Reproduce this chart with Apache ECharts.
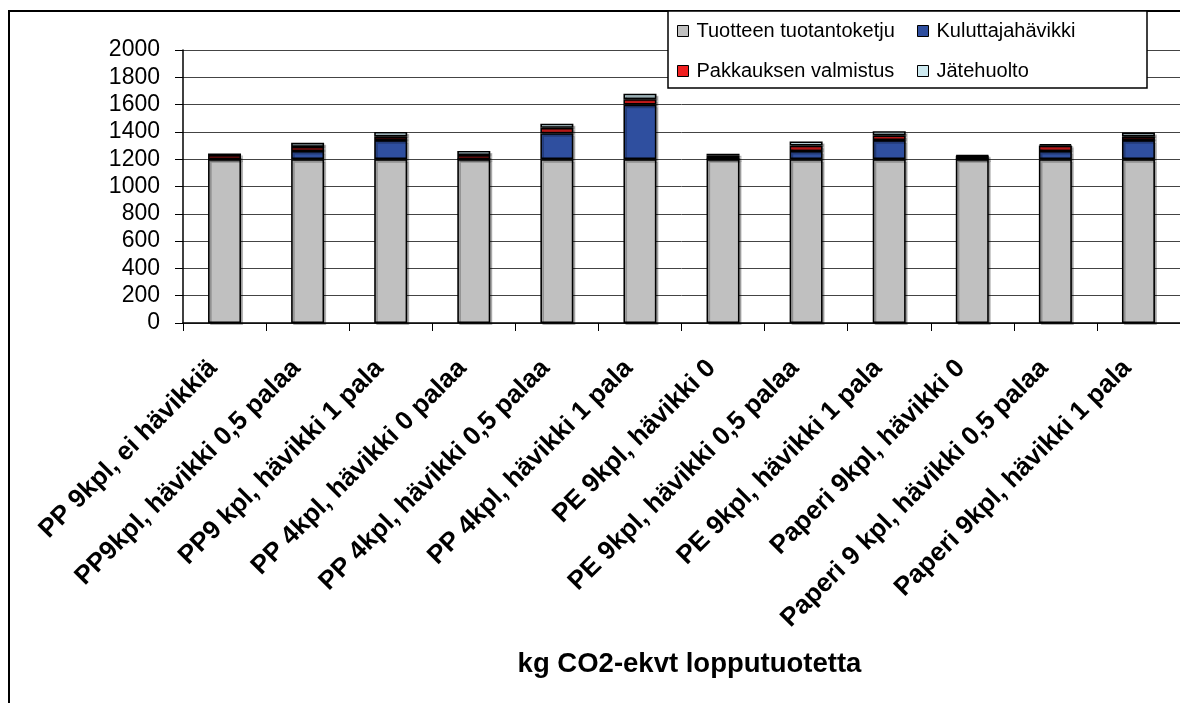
<!DOCTYPE html>
<html><head><meta charset="utf-8">
<script src="https://cdn.jsdelivr.net/npm/echarts@6/dist/echarts.min.js"></script>
<style>html,body{margin:0;padding:0;background:#fff}#c{width:1180px;height:703px}</style>
</head><body><div id="c"></div>
<script>
const categories = ['PP 9kpl, ei hävikkiä','PP9kpl, hävikki 0,5 palaa','PP9 kpl, hävikki 1 pala','PP 4kpl, hävikki 0 palaa','PP 4kpl, hävikki 0,5 palaa','PP 4kpl, hävikki 1 pala','PE 9kpl, hävikki 0','PE 9kpl, hävikki 0,5 palaa','PE 9kpl, hävikki 1 pala','Paperi 9kpl, hävikki 0','Paperi 9 kpl, hävikki 0,5 palaa','Paperi 9kpl, hävikki 1 pala'];
const tuotantoketju = [1200,1200,1200,1200,1200,1200,1200,1200,1200,1200,1200,1200];
const kuluttajahavikki = [0,60,140,0,190,400,0,60,140,0,60,140];
const pakkaus = [30,30,25,30,40,40,25,40,35,25,40,25];
const jatehuolto = [12,30,35,30,30,40,15,30,30,5,10,30];
const yTicks = {min:0, max:2000, interval:200};

const chart = echarts.init(document.getElementById('c'));
const border = {borderColor:'#000', borderWidth:1.6, shadowColor:'rgba(0,0,0,0.25)', shadowOffsetX:2, shadowOffsetY:2, shadowBlur:0};
function s(name, data, color){
  return {name, type:'bar', stack:'t', data, barWidth:33, itemStyle:Object.assign({color}, border)};
}
const legendCommon = {orient:'vertical', top:21, padding:0, itemWidth:11, itemHeight:11, itemGap:20, z:10,
  textStyle:{fontSize:20, color:'#000', padding:[0,0,0,3]}, itemStyle:{borderColor:'#000', borderWidth:1}, icon:'rect'};
chart.setOption({
  animation:false,
  textStyle:{fontFamily:'Liberation Sans, Arial, sans-serif'},
  grid:{left:183, top:50, width:1010, bottom:380, containLabel:false},
  xAxis:{type:'category', data:categories,
    axisLine:{lineStyle:{color:'#000', width:1.5}},
    axisTick:{show:true, length:8, alignWithLabel:false, lineStyle:{color:'#000'}},
    axisLabel:{rotate:45, interval:0, color:'#000', fontSize:26, fontWeight:'bold', margin:30, padding:[0,16,0,0]},
    name:'kg CO2-ekvt lopputuotetta', nameLocation:'middle', nameGap:327,
    nameTextStyle:{color:'#000', fontSize:27.5, fontWeight:'bold', padding:[0,0,0,16]}
  },
  yAxis:{type:'value', min:yTicks.min, max:yTicks.max, interval:yTicks.interval,
    axisLine:{show:true, lineStyle:{color:'#000', width:1.5}},
    axisTick:{show:true, length:8, lineStyle:{color:'#000'}},
    axisLabel:{color:'#000', fontSize:23, margin:23, formatter:v=>String(v)},
    splitLine:{show:true, lineStyle:{color:'#444', width:1}}
  },
  legend:[
    Object.assign({data:['Tuotteen tuotantoketju','Pakkauksen valmistus'], left:677}, legendCommon),
    Object.assign({data:['Kuluttajahävikki','Jätehuolto'], left:917}, legendCommon)
  ],
  graphic:[
    {type:'rect', z:-1, shape:{x:9, y:11, width:1200, height:720}, style:{fill:'none', stroke:'#000', lineWidth:2}},
    {type:'rect', z:5, shape:{x:668, y:11, width:479, height:77}, style:{fill:'#fff', stroke:'#000', lineWidth:1.5}}
  ],
  series:[
    s('Tuotteen tuotantoketju', tuotantoketju, '#c0c0c0'),
    s('Kuluttajahävikki', kuluttajahavikki, '#2f4f9f'),
    s('Pakkauksen valmistus', pakkaus, '#f02020'),
    s('Jätehuolto', jatehuolto, '#cde9f0')
  ]
});
</script></body></html>
